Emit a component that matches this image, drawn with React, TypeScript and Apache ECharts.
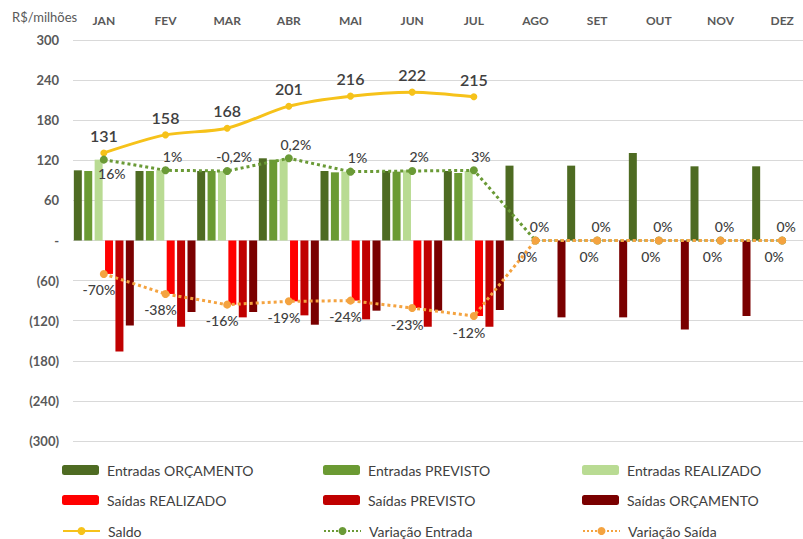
import React, { useEffect, useRef } from "react";
import * as echarts from "echarts";

const months = ["JAN", "FEV", "MAR", "ABR", "MAI", "JUN", "JUL", "AGO", "SET", "OUT", "NOV", "DEZ"];

const entradasOrcamento = [105, 104, 104, 123, 104, 104, 104, 112, 112, 131, 111, 111];
const entradasPrevisto = [104, 104, 104, 121, 102, 103, 101, null, null, null, null, null];
const entradasRealizado = [121, 105, 104, 122, 103, 105, 104, null, null, null, null, null];

const saidasRealizado = [-50, -80, -96, -91, -90, -101, -113, null, null, null, null, null];
const saidasPrevisto = [-166, -129, -115, -112, -118, -129, -129, null, null, null, null, null];
const saidasOrcamento = [-127, -107, -107, -126, -105, -105, -104, -115, -115, -133, -113, -115];

const saldo = [131, 158, 168, 201, 216, 222, 215, null, null, null, null, null];

const variacaoEntradaPos = [121, 105, 104, 123, 103, 104, 105, 0, 0, 0, 0, 0];
const variacaoEntradaLabels = ["16%", "1%", "-0,2%", "0,2%", "1%", "2%", "3%", "0%", "0%", "0%", "0%", "0%"];

const variacaoSaidaPos = [-50, -80, -96, -91, -90, -101, -113, 0, 0, 0, 0, 0];
const variacaoSaidaLabels = ["-70%", "-38%", "-16%", "-19%", "-24%", "-23%", "-12%", "0%", "0%", "0%", "0%", "0%"];

const yTicks = { min: -300, max: 300, interval: 60 };

const FONT = "Lato, 'Open Sans', sans-serif";
const TXT = "#404040";
const AX = "#595959";

const colors = {
  entOrc: "#4E6B22",
  entPrev: "#6B9A33",
  entReal: "#B9DB93",
  saiReal: "#FF0000",
  saiPrev: "#C00000",
  saiOrc: "#7A0000",
  saldo: "#F6C21A",
  varEnt: "#6A9A36",
  varSai: "#F4A340",
};

export default function App() {
  const ref = useRef<HTMLDivElement>(null);
  useEffect(() => {
    document.body.style.margin = "0";
    if (!ref.current) return;
    const chart = echarts.init(ref.current, undefined, { renderer: "svg" });

    const barBase = (name: string, data: (number | null)[], color: string) => ({
      name,
      type: "bar",
      data,
      barWidth: 8,
      barGap: "30%",
      itemStyle: { color },
    });

    const pctLabel = { fontFamily: FONT, fontSize: 14, color: TXT, fontWeight: 500 };

    const varEntData = variacaoEntradaPos.map((v, i) => ({
      value: v,
      label:
        i === 0
          ? { position: "bottom", offset: [8, -2], formatter: variacaoEntradaLabels[i] }
          : { position: "top", offset: [i < 7 ? 7 : 4, 2], formatter: variacaoEntradaLabels[i] },
    }));
    const varSaiData = variacaoSaidaPos.map((v, i) => ({
      value: v,
      label: {
        position: "bottom",
        offset: [i < 7 ? -5 : -8, 0],
        formatter: variacaoSaidaLabels[i],
      },
    }));

    const legendDefs: [string, number, number][] = [
      ["Entradas ORÇAMENTO", 62, 471],
      ["Entradas PREVISTO", 323, 471],
      ["Entradas REALIZADO", 582, 471],
      ["Saídas REALIZADO", 62, 501],
      ["Saídas PREVISTO", 323, 501],
      ["Saídas ORÇAMENTO", 582, 501],
      ["Saldo", 62, 532],
      ["Variação Entrada", 323, 532],
      ["Variação Saída", 582, 532],
    ];

    chart.setOption({
      animation: false,
      textStyle: { fontFamily: FONT },
      grid: { left: 73, right: 0, top: 40, bottom: 98, containLabel: false, outerBoundsMode: "none" },
      graphic: [
        {
          type: "text",
          left: 12,
          top: 10,
          style: { text: "R$/milhões", fontFamily: FONT, fontSize: 13, fill: AX },
        },
      ],
      legend: legendDefs.map(([name, x, y]) => ({
        data: [name],
        left: x,
        top: y - 8,
        itemWidth: 37,
        itemHeight: 10,
        itemGap: 0,
        padding: 0,
        textStyle: { fontFamily: FONT, fontSize: 14, color: TXT, padding: [0, 0, 0, 3] },
        selectedMode: false,
      })),
      xAxis: {
        type: "category",
        data: months,
        position: "top",
        axisLine: { show: false },
        axisTick: { show: false },
        axisLabel: { color: AX, fontWeight: "bold", fontSize: 12, fontFamily: FONT, margin: 14 },
      },
      yAxis: {
        type: "value",
        min: yTicks.min,
        max: yTicks.max,
        interval: yTicks.interval,
        axisLine: { show: false },
        axisTick: { show: false },
        splitLine: { lineStyle: { color: "#D9D9D9", width: 1 } },
        axisLabel: {
          color: AX,
          fontWeight: "bold",
          fontSize: 13,
          fontFamily: FONT,
          margin: 14,
          formatter: (v: number) => (v === 0 ? "-" : v < 0 ? `(${-v})` : `${v}`),
        },
      },
      series: [
        barBase("Entradas ORÇAMENTO", entradasOrcamento, colors.entOrc),
        barBase("Entradas PREVISTO", entradasPrevisto, colors.entPrev),
        barBase("Entradas REALIZADO", entradasRealizado, colors.entReal),
        barBase("Saídas REALIZADO", saidasRealizado, colors.saiReal),
        barBase("Saídas PREVISTO", saidasPrevisto, colors.saiPrev),
        barBase("Saídas ORÇAMENTO", saidasOrcamento, colors.saiOrc),
        {
          name: "Saldo",
          type: "line",
          data: saldo,
          smooth: 0.3,
          symbol: "circle",
          symbolSize: 7,
          lineStyle: { color: colors.saldo, width: 3 },
          itemStyle: { color: colors.saldo },
          label: {
            show: true,
            position: "top",
            offset: [0, -1],
            fontFamily: FONT,
            fontSize: 16,
            fontWeight: 600,
            color: TXT,
          },
          z: 5,
        },
        {
          name: "Variação Entrada",
          type: "line",
          data: varEntData,
          symbol: "circle",
          symbolSize: 8,
          lineStyle: { color: colors.varEnt, width: 3, type: "dotted" },
          itemStyle: { color: colors.varEnt },
          label: { show: true, ...pctLabel },
          z: 6,
        },
        {
          name: "Variação Saída",
          type: "line",
          data: varSaiData,
          symbol: "circle",
          symbolSize: 8,
          lineStyle: { color: colors.varSai, width: 3, type: "dotted" },
          itemStyle: { color: colors.varSai },
          label: { show: true, ...pctLabel },
          z: 7,
        },
      ],
    });
    return () => chart.dispose();
  }, []);
  return (
    <div style={{ width: 803, height: 539, overflow: "hidden", position: "relative" }}>
      <div ref={ref} style={{ width: 813, height: 539 }} />
    </div>
  );
}
